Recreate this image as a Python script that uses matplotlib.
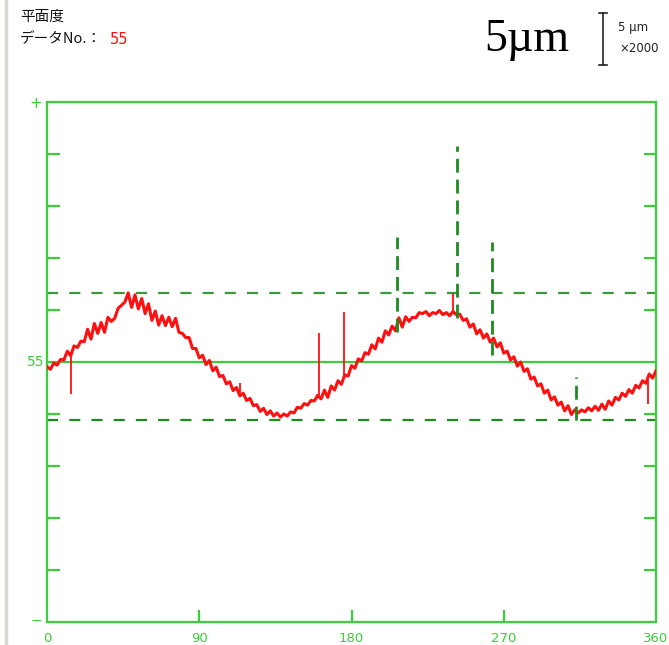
import numpy as np
import matplotlib
matplotlib.use("Agg")
import matplotlib.pyplot as plt
from matplotlib.lines import Line2D

# ---------------- data ----------------
angles = np.arange(0, 361, 2)  # degrees
profile = [
    -0.09, -0.14, -0.02, -0.06, 0.05, 0.04, 0.21, 0.12, 0.31, 0.28,
    0.40, 0.39, 0.63, 0.44, 0.74, 0.55, 0.76, 0.57, 0.86, 0.78,
    0.84, 1.03, 1.09, 1.15, 1.33, 1.05, 1.29, 1.02, 1.22, 0.93,
    1.12, 0.80, 0.98, 0.71, 0.89, 0.70, 0.86, 0.68, 0.84, 0.57,
    0.55, 0.47, 0.47, 0.26, 0.26, 0.08, 0.13, -0.05, 0.03, -0.17,
    -0.10, -0.28, -0.26, -0.42, -0.38, -0.55, -0.49, -0.65, -0.60, -0.74,
    -0.70, -0.84, -0.82, -0.95, -0.89, -1.01, -0.94, -1.04, -0.98, -1.06,
    -1.00, -1.04, -0.96, -0.98, -0.87, -0.89, -0.80, -0.83, -0.74, -0.75,
    -0.64, -0.71, -0.54, -0.68, -0.46, -0.54, -0.36, -0.43, -0.25, -0.27,
    -0.07, -0.12, 0.06, 0.02, 0.18, 0.15, 0.33, 0.25, 0.46, 0.38,
    0.60, 0.52, 0.69, 0.60, 0.85, 0.67, 0.87, 0.78, 0.86, 0.85,
    0.95, 0.93, 0.97, 0.89, 0.95, 0.93, 0.99, 0.91, 0.95, 0.89,
    0.97, 0.91, 0.92, 0.80, 0.83, 0.67, 0.73, 0.54, 0.62, 0.46,
    0.54, 0.38, 0.46, 0.29, 0.37, 0.17, 0.21, 0.04, 0.10, -0.08,
    0.00, -0.18, -0.13, -0.33, -0.29, -0.46, -0.42, -0.60, -0.54, -0.73,
    -0.67, -0.83, -0.77, -0.94, -0.84, -1.01, -0.92, -0.98, -0.92, -0.96,
    -0.88, -0.94, -0.85, -0.93, -0.81, -0.91, -0.75, -0.83, -0.68, -0.73,
    -0.60, -0.66, -0.53, -0.60, -0.45, -0.50, -0.36, -0.41, -0.23, -0.31,
    -0.17,
]

# isolated spikes on the trace: angle, base value, tip value
spike_angle = [14, 114, 161, 175.5, 240, 355.5]
spike_base = [0.19, -0.60, -0.69, -0.31, 0.94, -0.35]
spike_tip = [-0.62, -0.40, 0.56, 0.96, 1.33, -0.81]

# dashed peak markers: angle, top, bottom
marker_angle = [206.9, 242.4, 263.0, 313.0]
marker_top = [2.40, 4.15, 2.31, -0.29]
marker_bottom = [0.58, 0.85, 0.13, -1.12]

upper_limit = 1.33
lower_limit = -1.12
center_value = 0.0

x_ticks = [0, 90, 180, 270, 360]
y_ticks = [-4, -3, -2, -1, 1, 2, 3, 4]
data_no = "55"

# ---------------- figure ----------------
W, H = 669, 645
fig = plt.figure(figsize=(W / 100, H / 100), dpi=100)
fig.patch.set_facecolor("white")

GREEN = "#3ccc3c"
DGREEN = "#3a993a"
MGREEN = "#1f8a1f"
RED = "#ff1010"
NARROW = ["Liberation Sans Narrow", "DejaVu Sans"]

def fx(px):
    return px / W

def fy(py):
    return 1 - py / H

ax = fig.add_axes([fx(47), fy(622), fx(656) - fx(47), fy(102) - fy(622)])
ax.set_xlim(0, 360)
ax.set_ylim(-5, 5)
for s in ax.spines.values():
    s.set_color(GREEN)
    s.set_linewidth(1.6)

ax.set_xticks([90, 180, 270])
ax.set_xticklabels([])
ax.set_yticks(y_ticks)
ax.set_yticklabels([])
ax.tick_params(axis="both", direction="in", color=GREEN, width=1.6, length=9,
               left=True, right=True, top=False, bottom=True)

# reference lines
ax.axhline(center_value, color=GREEN, lw=1.6, zorder=2)
ax.axhline(upper_limit, color=DGREEN, lw=1.6, ls=(0, (5, 5)), zorder=2)
ax.axhline(lower_limit, color=MGREEN, lw=1.6, ls=(0, (5, 5)), zorder=2)

# profile
ax.plot(angles, profile, color=RED, lw=2.2, zorder=3)
ax.vlines(spike_angle, spike_base, spike_tip, color=RED, lw=1.3, zorder=3)

# markers
ax.vlines(marker_angle, marker_bottom, marker_top, color=MGREEN, lw=2.0,
          linestyles=(0, (5, 2.5)), zorder=4)

# tick labels (green, below)
for xv in x_ticks:
    ax.text(xv, -5.2, str(xv), ha="center", va="top", color=GREEN, fontsize=9.5,
            family=NARROW, clip_on=False)

ax.text(-1.5, 0, data_no, ha="right", va="center", color=GREEN, fontsize=10,
        family=NARROW, clip_on=False)
fig.text(fx(36), fy(103), "+", ha="center", va="center", color=GREEN, fontsize=11,
         family="DejaVu Sans")
fig.text(fx(36), fy(621), "−", ha="center", va="center", color=GREEN, fontsize=10,
         family="DejaVu Sans")

# header texts
cjk = ["Noto Sans CJK JP", "DejaVu Sans"]
fig.text(fx(20), fy(17), "平面度", ha="left", va="center", fontsize=10.5, family=cjk, color="#111111")
fig.text(fx(20), fy(39), "データNo.：", ha="left", va="center", fontsize=10.5, family=cjk, color="#111111")
fig.text(fx(110), fy(39), data_no, ha="left", va="center", fontsize=10.5,
         family=NARROW, color=RED)

fig.text(fx(484), fy(40), "5µm", ha="left", va="center", fontsize=33,
         family=["Liberation Serif", "DejaVu Serif"], color="black")

# scale bar
fig.add_artist(Line2D([fx(603), fx(603)], [fy(13), fy(65)], color="#222222", lw=1.2))
fig.add_artist(Line2D([fx(599), fx(607)], [fy(13), fy(13)], color="#222222", lw=1.2))
fig.add_artist(Line2D([fx(599), fx(607)], [fy(65), fy(65)], color="#222222", lw=1.2))
fig.text(fx(618), fy(28), "5 μm", ha="left", va="center", fontsize=8.5,
         family=NARROW, color="#222222")
fig.text(fx(619), fy(48), "×2000", ha="left", va="center", fontsize=8.5,
         family=NARROW, color="#222222")

# left gray bar
fig.add_artist(Line2D([fx(6), fx(6)], [0, 1], color="#d9d5d1", lw=2.5))

fig.savefig("out.png", dpi=100)
